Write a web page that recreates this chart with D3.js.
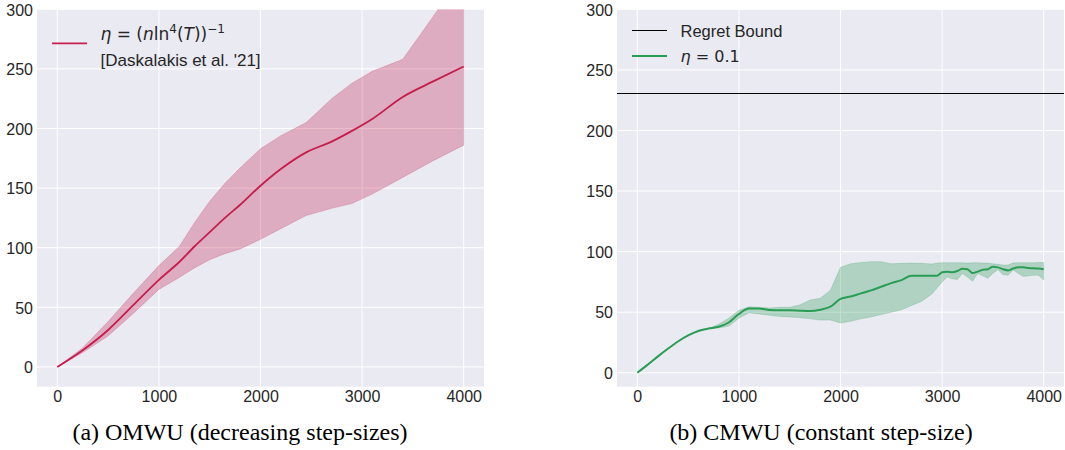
<!DOCTYPE html>
<html>
<head>
<meta charset="utf-8">
<script src="https://cdn.jsdelivr.net/npm/d3@7"></script>
<style>
  body { margin: 0; background: #ffffff; }
  .tick text { font-family: "Liberation Sans", Arial, sans-serif; font-size: 16px; fill: #262626; }
</style>
</head>
<body>
<div id="chart"></div>
<script>

// ---- data ----

// (a) OMWU, decreasing step-sizes
var leftX     = [0, 250, 500, 750, 1000, 1200, 1350, 1500, 1650, 1800, 2000, 2200, 2450, 2700, 2900, 3100, 3400, 3700, 4000];
var leftMean  = [0, 14, 31, 52, 73, 88, 101, 113, 125, 136, 152, 166, 180, 189, 198, 208, 226.5, 239.5, 252];
var leftLower = [0, 12, 26, 45, 65, 75, 83, 90, 95, 99, 107, 116, 127, 133, 137, 145, 159, 173, 186];
var leftUpper = [0, 16, 38, 62, 85, 101, 121, 139, 154, 167, 183, 194, 205, 225, 238, 248, 258, 294, 330];

// (b) CMWU, constant step-size
var rightX = [0, 100, 200, 300, 400, 500, 600, 700, 800, 900, 1000, 1100, 1200, 1300, 1400, 1500,
  1600, 1700, 1800, 1900, 2000, 2100, 2200, 2300, 2400, 2500, 2600, 2700, 2800, 2900,
  2950, 3000, 3050, 3100, 3150, 3200, 3250, 3300, 3350, 3400, 3450, 3500, 3550, 3600,
  3650, 3700, 3750, 3800, 3850, 3900, 3950, 4000];
var rightMean = [0, 6.5, 13.3, 19.8, 25.8, 30.8, 34.5, 36.5, 38, 41.5, 48.5, 53, 53, 51.8, 51.5, 51.5,
  51.2, 51, 52, 54.5, 61, 63, 65.5, 68, 71, 74, 76.5, 80, 80, 80,
  80, 83, 83.4, 83, 84, 85.8, 85.5, 82.3, 83.5, 85, 85.5, 87.5, 87, 85.5,
  84.5, 86, 87, 87, 86.5, 86.2, 86, 85.5];
var rightLower = [0, 6.5, 13.3, 19.8, 25.8, 30.8, 34.5, 36.5, 37, 38.5, 45, 49.5, 48.5, 47.5, 46.5, 46,
  45.5, 44.5, 43.5, 43.5, 41, 42.5, 44.5, 46, 48, 50, 52, 55.5, 59, 65,
  70, 75, 79, 77.5, 77, 82, 79, 75.5, 82, 80, 78, 82, 85, 81,
  80.5, 84.8, 82, 79.5, 80, 80.5, 80.5, 76.5];
var rightUpper = [0, 6.5, 13.3, 19.8, 25.8, 30.8, 34.5, 36.5, 40, 45, 51.5, 54.5, 54, 53.5, 54, 54,
  56, 60, 61.5, 68, 87, 90, 91, 91.7, 91.7, 90, 90.3, 90.5, 90.3, 89.8,
  90.5, 90.8, 90.8, 90.8, 90.8, 90.8, 90.5, 90.8, 90.8, 90.5, 90.5, 90, 89.5, 89,
  88.9, 90.8, 90.8, 90.8, 90.8, 90.8, 91, 91];

var regretBound = 231;

var xTicks = [0, 1000, 2000, 3000, 4000];
var yTicks = [0, 50, 100, 150, 200, 250, 300];

// ---- drawing ----

var width = 1065, height = 450;

var svg = d3.select("#chart")
  .append("svg")
    .attr("width", width)
    .attr("height", height);

function zipSeries(xs, mean, lower, upper) {
  return xs.map(function(x, i) {
    return {x: x, mean: mean[i], lower: lower[i], upper: upper[i]};
  });
}

function drawPanel(p) {
  var x = d3.scaleLinear().domain([-200, 4200]).range([p.left, p.right]);
  var y = d3.scaleLinear().domain(p.yDomain).range([p.bottom, p.top]);

  var g = svg.append("g");

  // grey darkgrid background
  g.append("rect")
    .attr("x", p.left)
    .attr("y", p.top)
    .attr("width", p.right - p.left)
    .attr("height", p.bottom - p.top)
    .attr("fill", "#eaeaf2");

  var clipId = "clip-" + p.name;
  svg.append("clipPath")
      .attr("id", clipId)
    .append("rect")
      .attr("x", p.left)
      .attr("y", p.top)
      .attr("width", p.right - p.left)
      .attr("height", p.bottom - p.top);

  // grid lines
  g.selectAll(".vgrid")
    .data(xTicks)
    .enter()
    .append("line")
      .attr("x1", function(d) { return x(d); })
      .attr("x2", function(d) { return x(d); })
      .attr("y1", p.top)
      .attr("y2", p.bottom)
      .attr("stroke", "#ffffff")
      .attr("stroke-width", 1);
  g.selectAll(".hgrid")
    .data(yTicks)
    .enter()
    .append("line")
      .attr("x1", p.left)
      .attr("x2", p.right)
      .attr("y1", function(d) { return y(d); })
      .attr("y2", function(d) { return y(d); })
      .attr("stroke", "#ffffff")
      .attr("stroke-width", 1);

  // axes (labels only, seaborn style)
  var xAxis = g.append("g")
    .attr("transform", "translate(0," + p.bottom + ")")
    .call(d3.axisBottom(x).tickValues(xTicks).tickSize(0).tickPadding(4).tickFormat(d3.format("d")));
  xAxis.select(".domain").remove();

  var yAxis = g.append("g")
    .attr("transform", "translate(" + p.left + ",0)")
    .call(d3.axisLeft(y).tickValues(yTicks).tickSize(0).tickPadding(4).tickFormat(d3.format("d")));
  yAxis.select(".domain").remove();
  yAxis.selectAll("text").attr("dy", "0.36em");

  var plot = g.append("g").attr("clip-path", "url(#" + clipId + ")");

  if (p.bound != null) {
    var by = Math.round(y(p.bound)) + 0.5;
    plot.append("line")
      .attr("x1", p.left)
      .attr("x2", p.right)
      .attr("y1", by)
      .attr("y2", by)
      .attr("stroke", "#000000")
      .attr("stroke-width", 1)
      .attr("shape-rendering", "crispEdges");
  }

  var band = d3.area()
    .x(function(d) { return x(d.x); })
    .y0(function(d) { return y(d.lower); })
    .y1(function(d) { return y(d.upper); });

  var line = d3.line()
    .curve(d3.curveMonotoneX)
    .x(function(d) { return x(d.x); })
    .y(function(d) { return y(d.mean); });

  plot.append("path")
    .datum(p.data)
    .attr("d", band)
    .attr("fill", p.color)
    .attr("fill-opacity", 0.3)
    .attr("stroke", p.color)
    .attr("stroke-opacity", 0.2)
    .attr("stroke-width", 1);

  plot.append("path")
    .datum(p.data)
    .attr("d", line)
    .attr("fill", "none")
    .attr("stroke", p.color)
    .attr("stroke-width", p.lineWidth);

  // caption under the panel
  svg.append("text")
    .attr("x", p.captionX)
    .attr("y", 440)
    .attr("text-anchor", "middle")
    .style("font-family", "'Liberation Serif', 'Times New Roman', serif")
    .style("font-size", "24px")
    .style("fill", "#000000")
    .text(p.caption);

  return {x: x, y: y};
}

var red = "#c51d4d";
var green = "#2a9d55";

drawPanel({
  name: "a",
  left: 37, right: 484, top: 9.3, bottom: 386.7,
  yDomain: [-16.6, 300],
  data: zipSeries(leftX, leftMean, leftLower, leftUpper),
  color: red,
  lineWidth: 1.8,
  caption: "(a) OMWU (decreasing step-sizes)",
  captionX: 240
});

drawPanel({
  name: "b",
  left: 617, right: 1064, top: 9.3, bottom: 386.7,
  yDomain: [-11.5, 300],
  bound: regretBound,
  data: zipSeries(rightX, rightMean, rightLower, rightUpper),
  color: green,
  lineWidth: 2,
  caption: "(b) CMWU (constant step-size)",
  captionX: 821
});

// ---- legends ----
var sans = "'Liberation Sans', Arial, sans-serif";
var mathFont = "'DejaVu Sans', sans-serif";

// left legend
svg.append("line")
  .attr("x1", 52).attr("x2", 87).attr("y1", 43.3).attr("y2", 43.3)
  .attr("stroke", red).attr("stroke-width", 1.8);

var eq = svg.append("text")
  .attr("x", 100.5)
  .attr("y", 39.5)
  .style("font-family", mathFont)
  .style("font-size", "17px")
  .style("fill", "#262626");
eq.append("tspan").style("font-style", "italic").text("η");
eq.append("tspan").text(" = (");
eq.append("tspan").style("font-style", "italic").text("n");
eq.append("tspan").text("ln");
eq.append("tspan").attr("dy", -7).style("font-size", "12px").text("4");
eq.append("tspan").attr("dy", 7).text("(");
eq.append("tspan").style("font-style", "italic").text("T");
eq.append("tspan").text("))");
eq.append("tspan").attr("dy", -7).style("font-size", "12px").text("−1");

svg.append("text")
  .attr("x", 100.5)
  .attr("y", 65.5)
  .style("font-family", sans)
  .style("font-size", "17px")
  .style("fill", "#262626")
  .text("[Daskalakis et al. '21]");

// right legend
svg.append("line")
  .attr("x1", 632).attr("x2", 667).attr("y1", 30.5).attr("y2", 30.5)
  .attr("stroke", "#000000").attr("stroke-width", 1)
  .attr("shape-rendering", "crispEdges");
svg.append("text")
  .attr("x", 680.5)
  .attr("y", 36.7)
  .style("font-family", sans)
  .style("font-size", "16.5px")
  .style("fill", "#262626")
  .text("Regret Bound");

svg.append("line")
  .attr("x1", 632).attr("x2", 667).attr("y1", 56).attr("y2", 56)
  .attr("stroke", green).attr("stroke-width", 2);
var eta = svg.append("text")
  .attr("x", 680.5)
  .attr("y", 61.7)
  .style("font-family", mathFont)
  .style("font-size", "16px")
  .style("fill", "#262626");
eta.append("tspan").style("font-style", "italic").text("η");
eta.append("tspan").text(" = 0.1");

</script>
</body>
</html>
